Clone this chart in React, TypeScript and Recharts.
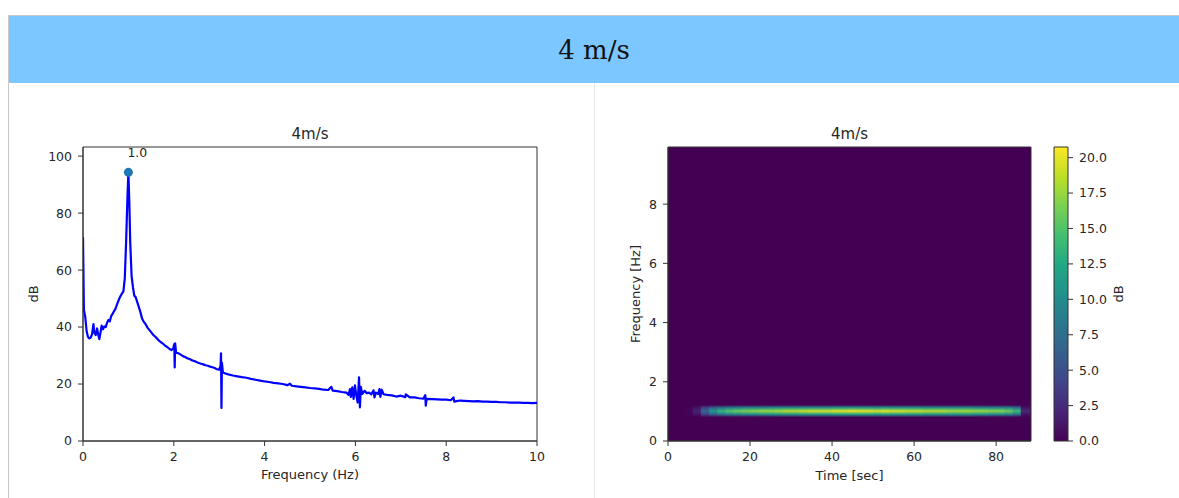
import {
  ComposedChart,
  Line,
  ReferenceArea,
  ReferenceDot,
  XAxis,
  YAxis,
} from "recharts";

// left panel: amplitude spectrum of the 4 m/s run
const spectrumFreq = [
  0, 0.02, 0.05, 0.08, 0.11, 0.14, 0.17, 0.2, 0.23, 0.25,
  0.28, 0.31, 0.34, 0.36, 0.39, 0.41, 0.44, 0.47, 0.5, 0.53,
  0.56, 0.59, 0.62, 0.65, 0.68, 0.71, 0.74, 0.77, 0.8, 0.83,
  0.86, 0.89, 0.92, 0.95, 0.98, 1.0, 1.02, 1.04, 1.07, 1.1,
  1.13, 1.16, 1.19, 1.22, 1.26, 1.3, 1.34, 1.38, 1.42, 1.46,
  1.5, 1.55, 1.6, 1.65, 1.7, 1.75, 1.8, 1.85, 1.9, 1.95,
  1.99, 2.01, 2.02, 2.03, 2.05, 2.1, 2.15, 2.2, 2.25, 2.3,
  2.35, 2.4, 2.45, 2.5, 2.55, 2.6, 2.65, 2.7, 2.75, 2.8,
  2.85, 2.9, 2.95, 3.0, 3.03, 3.04, 3.05, 3.06, 3.08, 3.12,
  3.2, 3.3, 3.4, 3.5, 3.6, 3.7, 3.8, 3.9, 4.0, 4.1,
  4.2, 4.3, 4.4, 4.5, 4.56, 4.6, 4.7, 4.8, 4.9, 5.0,
  5.1, 5.2, 5.3, 5.4, 5.47, 5.5, 5.6, 5.7, 5.8, 5.85,
  5.88, 5.9, 5.93, 5.96, 5.99, 6.02, 6.05, 6.08, 6.1, 6.12,
  6.15, 6.2, 6.25, 6.3, 6.35, 6.4, 6.42, 6.45, 6.5, 6.53,
  6.55, 6.58, 6.62, 6.7, 6.8, 6.9, 7.0, 7.1, 7.11, 7.2,
  7.3, 7.4, 7.5, 7.54, 7.55, 7.57, 7.7, 7.8, 7.9, 8.0,
  8.1, 8.16, 8.18, 8.3, 8.4, 8.5, 8.6, 8.7, 8.8, 8.9,
  9.0, 9.1, 9.2, 9.3, 9.4, 9.5, 9.6, 9.7, 9.8, 9.9,
  10,
];
const spectrumDb = [
  71.5, 46, 43.5, 38.5, 36.5, 36, 36.3, 37.5, 41, 38,
  37.2, 39.5, 37, 35.8, 38.5, 40.5, 39.2, 40.2, 40, 41.5,
  42.5, 42, 43.8, 44.5, 45.5, 46.2, 47.5, 48.8, 50, 51,
  51.8, 52.5, 57, 70, 86, 94.3, 84, 70, 58, 54,
  51, 50.5, 49, 47.5, 45.5, 43, 41.8, 41, 39.8, 39,
  38.2, 37.2, 36.5, 35.6, 34.9, 34.3, 33.6, 33, 32.4, 31.9,
  32.6, 34, 25.8, 34.3, 31, 30.8, 30.3, 29.8, 29.5, 29,
  28.8, 28.3, 28.1, 27.7, 27.4, 27.1, 26.9, 26.6, 26.4, 26.1,
  25.9, 25.6, 25.2, 25, 26.5, 30.8, 11.6, 27.5, 24.2, 23.8,
  23.4, 23, 22.7, 22.4, 22.2, 21.8, 21.5, 21.2, 20.9, 20.7,
  20.4, 20.2, 20, 19.6, 20.1, 19.4, 19.2, 19, 18.8, 18.6,
  18.5, 18.3, 18, 17.9, 19, 17.7, 17.5, 17.2, 17, 16.2,
  18.2, 15.5, 18.8, 14.8, 19.5, 16, 13.5, 22.3, 11.8, 19,
  16.5, 17.6, 16.8, 17, 16.4, 17.8, 15.3, 17, 16.5, 18.2,
  15.5, 18, 16.4, 16.2, 16, 15.6, 15.9, 15.4, 16.4, 15.3,
  15.3, 15, 14.9, 16.1, 12.4, 14.8, 14.7, 14.6, 14.5, 14.5,
  14.3, 15.3, 13.8, 14.2, 14.1, 14, 13.9, 14, 13.8, 13.8,
  13.7, 13.7, 13.6, 13.6, 13.5, 13.5, 13.5, 13.4, 13.4, 13.3,
  13.4,
];

const peakFreq = [1.0];
const peakDb = [94.3];
const peakLabels = ["1.0"];

const freqTicks = [0, 2, 4, 6, 8, 10];
const dbTicks = [0, 20, 40, 60, 80, 100];

// right panel: spectrogram, energy only in the ~1 Hz line
const bandTimes = [
  5, 7, 9, 11, 13, 15, 17, 19, 21, 23,
  25, 27, 29, 31, 33, 35, 37, 39, 41, 43,
  45, 47, 49, 51, 53, 55, 57, 59, 61, 63,
  65, 67, 69, 71, 73, 75, 77, 79, 81, 83,
  85, 87,
];
const bandCentreDb = [
  0.3, 2, 7, 11, 13.5, 15, 16, 16.5, 17, 17.5,
  17.5, 18, 18.5, 18.5, 19, 19.5, 19.5, 19.5, 20, 20,
  20.5, 20, 20, 19.5, 20, 19.5, 19.5, 19, 19, 18.5,
  18.5, 18.5, 18, 18, 18, 17.5, 17.5, 17, 17, 16,
  14, 2.5,
];
const bandShoulderDb = [
  0.1, 1, 4, 6.5, 8, 9, 9.5, 10, 10, 10.5,
  10.5, 11, 11, 11, 11.5, 11.5, 11.5, 11.5, 12, 12,
  12, 12, 12, 11.5, 12, 11.5, 11.5, 11.5, 11.5, 11,
  11, 11, 11, 11, 11, 10.5, 10.5, 10, 10, 9.5,
  8, 1,
];
const timeTicks = [0, 20, 40, 60, 80];
const specFreqTicks = [0, 2, 4, 6, 8];
const colorbarTicks = [0, 2.5, 5, 7.5, 10, 12.5, 15, 17.5, 20];

const theme = {
  ink: "#262626",
  frame: "#333333",
  line: "#0000ff",
  marker: "#1f77b4",
  header: "#7cc7ff",
  border: "#c8c8c8",
  divider: "#e6e6e6",
};

const viridisStops = [
  "#440154", "#482475", "#414487", "#355f8d", "#2a788e", "#21918c",
  "#22a884", "#44bf70", "#7ad151", "#bddf26", "#fde725",
];

const dbMax = 20.75;
const timeMax = 88.5;
const specFreqMax = 9.93;
const bandLow = 0.8;
const bandHigh = 1.22;
const binHalf = 1;
const binOverlap = 0.35; // hides anti-alias seams between columns

const mpl = "DejaVu Sans";
const tickFont = { fill: theme.ink, fontSize: 12.5, fontFamily: mpl };
const axisStroke = { stroke: theme.frame, strokeWidth: 1 };

function hexToRgb(hex: string) {
  const n = parseInt(hex.slice(1), 16);
  return [(n >> 16) & 255, (n >> 8) & 255, n & 255];
}

function viridis(t: number) {
  const c = Math.min(Math.max(t, 0), 1) * 10;
  const i = Math.min(Math.floor(c), 9);
  const f = c - i;
  const a = hexToRgb(viridisStops[i]);
  const b = hexToRgb(viridisStops[i + 1]);
  const mix = a.map((v, k) => Math.round(v + (b[k] - v) * f));
  return `rgb(${mix[0]},${mix[1]},${mix[2]})`;
}

function SpectrumPanel() {
  const data = spectrumFreq.map((f, i) => ({ f, db: spectrumDb[i] }));
  return (
    <ComposedChart
      width={540}
      height={385}
      data={data}
      margin={{ top: 37, right: 23, bottom: 24, left: 0 }}
    >
      <XAxis
        dataKey="f"
        type="number"
        domain={[0, 10]}
        ticks={freqTicks}
        interval={0}
        allowDataOverflow
        height={30}
        tickSize={5}
        tickMargin={6}
        tick={tickFont}
        tickLine={axisStroke}
        axisLine={axisStroke}
      />
      <YAxis
        type="number"
        domain={[0, 103.2]}
        ticks={dbTicks}
        interval={0}
        allowDataOverflow
        width={63}
        tickSize={5}
        tickMargin={6}
        tick={tickFont}
        tickLine={axisStroke}
        axisLine={axisStroke}
      />
      <ReferenceArea
        x1={0}
        x2={10}
        y1={0}
        y2={103.2}
        fill="none"
        fillOpacity={0}
        stroke={theme.frame}
        strokeWidth={1}
        ifOverflow="visible"
      />
      <Line
        dataKey="db"
        type="linear"
        stroke={theme.line}
        strokeWidth={2.2}
        strokeLinejoin="round"
        dot={false}
        activeDot={false}
        isAnimationActive={false}
      />
      {peakFreq.map((f, i) => (
        <ReferenceDot
          key={i}
          x={f}
          y={peakDb[i]}
          r={4.5}
          ifOverflow="visible"
          shape={(p: any) => (
            <g>
              <circle cx={p.cx} cy={p.cy} r={4.5} fill={theme.marker} />
              <text
                x={p.cx - 1}
                y={p.cy - 15}
                fill={theme.ink}
                fontSize={12.5}
                fontFamily={mpl}
              >
                {peakLabels[i]}
              </text>
            </g>
          )}
        />
      ))}
      <text x={290} y={28.5} textAnchor="middle" fill={theme.ink} fontSize={15} fontFamily={mpl}>
        4m/s
      </text>
      <text x={290} y={369} textAnchor="middle" fill={theme.ink} fontSize={13} fontFamily={mpl}>
        Frequency (Hz)
      </text>
      <text
        x={18}
        y={184}
        textAnchor="middle"
        fill={theme.ink}
        fontSize={13}
        fontFamily={mpl}
        transform="rotate(-90, 18, 184)"
      >
        dB
      </text>
    </ComposedChart>
  );
}

function SpectrogramPanel() {
  const data = bandTimes.map((t, i) => ({
    t,
    centre: bandCentreDb[i],
    shoulder: bandShoulderDb[i],
  }));
  const floor = viridis(0);
  return (
    <ComposedChart
      width={500}
      height={385}
      data={data}
      margin={{ top: 37, right: 59, bottom: 24, left: 0 }}
    >
      <defs>
        {data.map((d, i) => (
          <linearGradient key={i} id={`band-${i}`} x1="0" y1="0" x2="0" y2="1">
            <stop offset="0" stopColor={floor} />
            <stop offset="0.24" stopColor={viridis(d.shoulder / dbMax)} />
            <stop offset="0.5" stopColor={viridis(d.centre / dbMax)} />
            <stop offset="0.76" stopColor={viridis(d.shoulder / dbMax)} />
            <stop offset="1" stopColor={floor} />
          </linearGradient>
        ))}
      </defs>
      <XAxis
        dataKey="t"
        type="number"
        domain={[0, timeMax]}
        ticks={timeTicks}
        interval={0}
        allowDataOverflow
        height={30}
        tickSize={5}
        tickMargin={6}
        tick={tickFont}
        tickLine={axisStroke}
        axisLine={axisStroke}
      />
      <YAxis
        type="number"
        domain={[0, specFreqMax]}
        ticks={specFreqTicks}
        interval={0}
        allowDataOverflow
        width={78}
        tickSize={5}
        tickMargin={6}
        tick={tickFont}
        tickLine={axisStroke}
        axisLine={axisStroke}
      />
      <ReferenceArea
        x1={0}
        x2={timeMax}
        y1={0}
        y2={specFreqMax}
        fill={floor}
        fillOpacity={1}
        stroke="none"
        ifOverflow="visible"
      />
      {data.map((d, i) => (
        <ReferenceArea
          key={i}
          x1={d.t - binHalf}
          x2={Math.min(d.t + binHalf + binOverlap, timeMax)}
          y1={bandLow}
          y2={bandHigh}
          fill={`url(#band-${i})`}
          fillOpacity={1}
          stroke="none"
          strokeWidth={0}
          ifOverflow="visible"
        />
      ))}
      <ReferenceArea
        x1={0}
        x2={timeMax}
        y1={0}
        y2={specFreqMax}
        fill="none"
        fillOpacity={0}
        stroke={theme.frame}
        strokeWidth={1}
        ifOverflow="visible"
      />
      <text x={259.5} y={28.5} textAnchor="middle" fill={theme.ink} fontSize={15} fontFamily={mpl}>
        4m/s
      </text>
      <text x={259.5} y={370} textAnchor="middle" fill={theme.ink} fontSize={13} fontFamily={mpl}>
        Time [sec]
      </text>
      <text
        x={49.5}
        y={184}
        textAnchor="middle"
        fill={theme.ink}
        fontSize={13}
        fontFamily={mpl}
        transform="rotate(-90, 49.5, 184)"
      >
        Frequency [Hz]
      </text>
    </ComposedChart>
  );
}

function Colorbar() {
  return (
    <ComposedChart
      width={140}
      height={385}
      data={[{ x: 0 }, { x: 1 }]}
      margin={{ top: 37, right: 12, bottom: 54, left: 54 }}
    >
      <defs>
        <linearGradient id="viridis-bar" x1="0" y1="1" x2="0" y2="0">
          {viridisStops.map((c, i) => (
            <stop key={i} offset={i / (viridisStops.length - 1)} stopColor={c} />
          ))}
        </linearGradient>
      </defs>
      <XAxis dataKey="x" type="number" domain={[0, 1]} hide />
      <YAxis
        orientation="right"
        type="number"
        domain={[0, dbMax]}
        ticks={colorbarTicks}
        interval={0}
        allowDataOverflow
        width={60}
        tickSize={5}
        tickMargin={6}
        tick={tickFont}
        tickLine={axisStroke}
        axisLine={false}
        tickFormatter={(v: number) => v.toFixed(1)}
      />
      <ReferenceArea
        x1={0}
        x2={1}
        y1={0}
        y2={dbMax}
        fill="url(#viridis-bar)"
        fillOpacity={1}
        stroke={theme.frame}
        strokeWidth={1}
        ifOverflow="visible"
      />
      <text
        x={123}
        y={184}
        textAnchor="middle"
        fill={theme.ink}
        fontSize={13}
        fontFamily={mpl}
        transform="rotate(-90, 123, 184)"
      >
        dB
      </text>
    </ComposedChart>
  );
}

export default function App() {
  return (
    <div
      style={{
        position: "absolute",
        left: 0,
        top: 0,
        width: 1179,
        height: 498,
        overflow: "hidden",
        background: "#ffffff",
      }}
    >
      <div
        style={{
          position: "absolute",
          left: 8,
          top: 15,
          width: 1170,
          height: 500,
          borderTop: `1px solid ${theme.border}`,
          borderLeft: `1px solid ${theme.border}`,
          borderRight: `1px solid ${theme.divider}`,
        }}
      >
        <div
          style={{
            height: 67,
            background: theme.header,
            display: "flex",
            alignItems: "center",
            justifyContent: "center",
            fontFamily: "DejaVu Serif",
            fontSize: 26,
            color: "#111",
          }}
        >
          4 m/s
        </div>
      </div>
      <div
        style={{
          position: "absolute",
          left: 594,
          top: 83,
          width: 1,
          height: 420,
          background: theme.divider,
        }}
      />
      <div style={{ position: "absolute", left: 20, top: 110 }}>
        <SpectrumPanel />
      </div>
      <div style={{ position: "absolute", left: 590, top: 110 }}>
        <SpectrogramPanel />
      </div>
      <div style={{ position: "absolute", left: 1000, top: 110 }}>
        <Colorbar />
      </div>
    </div>
  );
}
